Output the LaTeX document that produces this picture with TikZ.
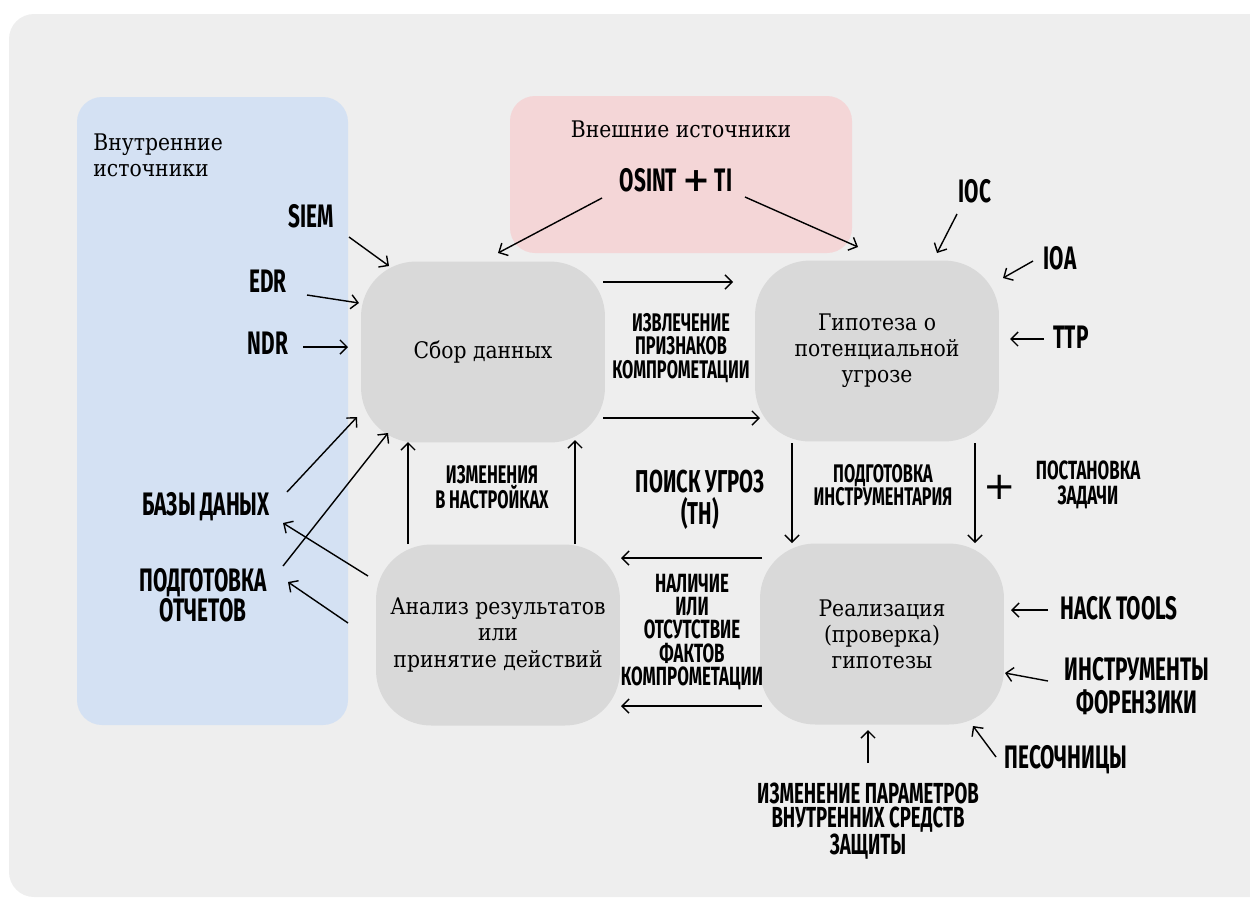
\documentclass[tikz,border=0pt]{standalone}
\usepackage{fontspec}
\setmainfont{DejaVu Serif}[FakeStretch=0.89]
\newfontfamily\bebas{Fira Sans}[FakeStretch=0.64]
\newfontfamily\plusfont{DejaVu Sans}
\usetikzlibrary{positioning}
\usetikzlibrary{calc}
\usetikzlibrary{arrows.meta}
\definecolor{panel}{RGB}{238,238,238}
\definecolor{inblue}{RGB}{212,225,243}
\definecolor{expink}{RGB}{244,214,215}
\definecolor{boxgray}{RGB}{217,217,217}

\begin{document}
\begin{tikzpicture}[x=0.02cm,y=-0.02cm,
  box/.style={fill=boxgray,rounded corners=1.1cm,minimum width=4.88cm,minimum height=3.62cm,align=center,font=\fontsize{13}{14.8}\selectfont},
  big/.style={font=\bebas\bfseries\fontsize{18.5}{19}\selectfont,align=center,inner sep=1pt},
  mid/.style={font=\bebas\bfseries\fontsize{14.5}{13.4}\selectfont,align=center,inner sep=1pt},
  arr/.style={-{Straight Barb[length=4pt,width=8pt]},line width=0.8pt}]
  \useasboundingbox (0,0) rectangle (1250,904);
  \clip (0,0) rectangle (1250,904);

  % background areas
  \fill[panel,rounded corners=0.5cm] (9,14) rectangle (1290,897);
  \fill[inblue,rounded corners=0.5cm] (77,97) rectangle (348,725);
  \fill[expink,rounded corners=0.5cm] (510,96) rectangle (852,253);
  \node[anchor=north west,align=left,inner sep=0pt,font=\fontsize{13}{15.3}\selectfont] (in) at (93,133) {Внутренние\\источники};
  \node[font=\fontsize{13}{15.3}\selectfont] (ex) at (681,129) {Внешние источники};

  % main steps
  \node[box] (c) at (483,352) {Сбор данных};
  \node[box] (h) at (877,351) {Гипотеза о\\потенциальной\\угрозе};
  \node[box,font=\fontsize{13}{15.3}\selectfont] (a) at (498,635) {Анализ результатов\\или\\принятие действий};
  \node[box] (r) at (882,634) {Реализация\\(проверка)\\гипотезы};

  % labels
  \node[big] (siem) at (311,216) {SIEM};
  \node[big] (edr) at (268,281) {EDR};
  \node[big] (ndr) at (268,343) {NDR};
  \node[big] (db) at (206,507) {БАЗЫ ДАНЫХ};
  \node[big,font=\bebas\bfseries\fontsize{18.5}{17}\selectfont] (rep) at (203,595) {ПОДГОТОВКА\\ОТЧЕТОВ};
  \node[big] (osint) at (676,180) {OSINT {\plusfont\fontsize{19}{19}\selectfont+} TI};
  \node[big] (ioc) at (975,191) {IOC};
  \node[big] (ioa) at (1060,258) {IOA};
  \node[big] (ttp) at (1071,337) {TTP};
  \node[mid] (ext) at (681,348) {ИЗВЛЕЧЕНИЕ\\ПРИЗНАКОВ\\КОМПРОМЕТАЦИИ};
  \node[mid] (chg) at (492,487) {ИЗМЕНЕНИЯ\\В НАСТРОЙКАХ};
  \node[big,font=\bebas\bfseries\fontsize{18}{18}\selectfont] (th) at (700,500) {ПОИСК УГРОЗ\\(TH)};
  \node[mid] (tools) at (883,485) {ПОДГОТОВКА\\ИНСТРУМЕНТАРИЯ};
  \node[inner sep=1pt,font=\plusfont\fontsize{22}{22}\selectfont] (plus) at (1000,487) {+};
  \node[mid,font=\bebas\bfseries\fontsize{15}{14}\selectfont] (task) at (1088,485) {ПОСТАНОВКА\\ЗАДАЧИ};
  \node[mid,font=\bebas\bfseries\fontsize{15}{13.3}\selectfont] (fact) at (692,632) {НАЛИЧИЕ\\ИЛИ\\ОТСУТСТВИЕ\\ФАКТОВ\\КОМПРОМЕТАЦИИ};
  \node[big] (hack) at (1119,608) {HACK TOOLS};
  \node[big,font=\bebas\bfseries\fontsize{18.5}{18.7}\selectfont] (fore) at (1137,686) {ИНСТРУМЕНТЫ\\ФОРЕНЗИКИ};
  \node[big] (sand) at (1066,760) {ПЕСОЧНИЦЫ};
  \node[big,font=\bebas\bfseries\fontsize{16.5}{13.6}\selectfont] (prm) at (868,821) {ИЗМЕНЕНИЕ ПАРАМЕТРОВ\\ВНУТРЕННИХ СРЕДСТВ\\ЗАЩИТЫ};

  % sources -> collection
  \draw[arr] ($(siem)+(38,21)$) -- ($(c)+(-94,-86)$);
  \draw[arr] ($(edr)+(39,14)$) -- ($(c)+(-124,-49)$);
  \draw[arr] ($(ndr)+(35,4)$) -- ($(c)+(-135,-5)$);
  \draw[arr] ($(db)+(81,-15)$) -- ($(c)+(-126,65)$);
  \draw[arr] ($(rep)+(80,-29)$) -- ($(c)+(-95,81)$);
  \draw[arr] ($(osint)+(-74,18)$) -- ($(c)+(15,-99)$);
  \draw[arr] ($(osint)+(69,17)$) -- ($(h)+(-19,-104)$);

  % cycle
  \draw[arr] ($(c)+(120,-70)$) -- ($(h)+(-144,-69)$);
  \draw[arr] ($(c)+(120,66)$) -- ($(h)+(-117,67)$);
  \draw[arr] ($(h)+(-85,92)$) -- ($(r)+(-90,-91)$);
  \draw[arr] ($(h)+(98,92)$) -- ($(r)+(93,-91)$);
  \draw[arr] ($(r)+(-120,-76)$) -- ($(a)+(123,-77)$);
  \draw[arr] ($(r)+(-120,72)$) -- ($(a)+(123,71)$);
  \draw[arr] ($(a)+(-90,-91)$) -- ($(c)+(-75,90)$);
  \draw[arr] ($(a)+(77,-91)$) -- ($(c)+(92,88)$);

  % results -> reports
  \draw[arr] ($(a)+(-130,-59)$) -- ($(db)+(77,16)$);
  \draw[arr] ($(a)+(-150,-12)$) -- ($(rep)+(85,-13)$);

  % inputs of hypothesis and check
  \draw[arr] ($(ioc)+(-18,23)$) -- ($(h)+(60,-98)$);
  \draw[arr] ($(ioa)+(-27,3)$) -- ($(h)+(126,-73)$);
  \draw[arr] ($(ttp)+(-27,2)$) -- ($(h)+(133,-12)$);
  \draw[arr] ($(hack)+(-71,2)$) -- ($(r)+(129,-24)$);
  \draw[arr] ($(fore)+(-89,-5)$) -- ($(r)+(123,39)$);
  \draw[arr] ($(sand)+(-70,-3)$) -- ($(r)+(91,92)$);
  \draw[arr] ($(prm)+(0,-58)$) -- ($(r)+(-14,96)$);
\end{tikzpicture}
\end{document}
